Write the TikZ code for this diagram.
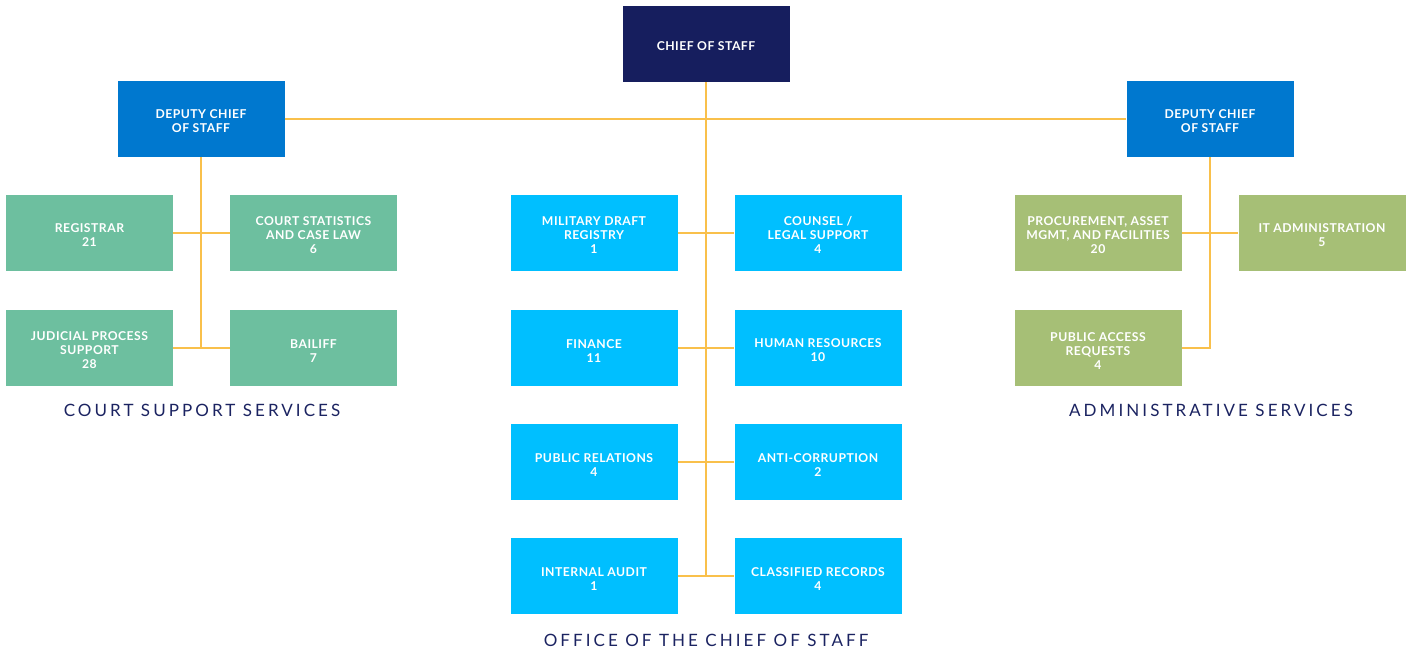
\documentclass[tikz,border=0pt]{standalone}
\usepackage{fontspec}
\setmainfont{Lato}
\newfontfamily\boxfont[LetterSpace=4]{Lato Bold}
\newfontfamily\capfont[LetterSpace=18]{Lato}
\newcommand\tstrut{\rule{0pt}{14pt}}
\definecolor{navy}{HTML}{161E5E}
\definecolor{deputy}{HTML}{0078CF}
\definecolor{court}{HTML}{6DBF9F}
\definecolor{office}{HTML}{00BFFF}
\definecolor{admin}{HTML}{A6BF76}
\definecolor{conn}{HTML}{F9C04B}
\definecolor{captxt}{HTML}{1B2361}
\begin{document}
\begin{tikzpicture}[x=1pt,y=-1pt,
  unit/.style={minimum width=167pt,minimum height=76pt,inner sep=0pt,text=white,align=center,
    font=\boxfont\fontsize{12.2}{14}\selectfont},
  chiefbox/.style={unit,fill=navy},
  depbox/.style={unit,fill=deputy},
  courtbox/.style={unit,fill=court},
  officebox/.style={unit,fill=office},
  adminbox/.style={unit,fill=admin},
  link/.style={draw=conn,line width=1.3pt},
  grouplabel/.style={text=captxt,font=\capfont\fontsize{17}{20}\selectfont,inner sep=0pt}]
\useasboundingbox (0,0) rectangle (1410,652);
\coordinate (cbot) at (706,576);
% nodes
\node[chiefbox] (chief) at (706,44) {\tstrut CHIEF OF STAFF};
\node[depbox] (dl) at (201,119) {\tstrut DEPUTY CHIEF\\OF STAFF};
\node[depbox] (dr) at (1210,119) {\tstrut DEPUTY CHIEF\\OF STAFF};
% court
\node[courtbox] (reg) at (89.5,233) {\tstrut REGISTRAR\\21};
\node[courtbox] (cs) at (313.5,233) {\tstrut COURT STATISTICS\\AND CASE LAW\\6};
\node[courtbox] (jp) at (89.5,348) {\tstrut JUDICIAL PROCESS\\SUPPORT\\28};
\node[courtbox] (bail) at (313.5,348) {\tstrut BAILIFF\\7};
% office
\node[officebox] (mdr) at (594,233) {\tstrut MILITARY DRAFT\\REGISTRY\\1};
\node[officebox] (cls) at (818,233) {\tstrut COUNSEL /\\LEGAL SUPPORT\\4};
\node[officebox] (fin) at (594,348) {\tstrut FINANCE\\11};
\node[officebox] (hr) at (818,348) {\tstrut HUMAN RESOURCES\\10};
\node[officebox] (pr) at (594,462) {\tstrut PUBLIC RELATIONS\\4};
\node[officebox] (ac) at (818,462) {\tstrut ANTI-CORRUPTION\\2};
\node[officebox] (ia) at (594,576) {\tstrut INTERNAL AUDIT\\1};
\node[officebox] (cr) at (818,576) {\tstrut CLASSIFIED RECORDS\\4};
% admin
\node[adminbox] (proc) at (1098,233) {\tstrut PROCUREMENT, ASSET\\MGMT, AND FACILITIES\\20};
\node[adminbox] (it) at (1322,233) {\tstrut IT ADMINISTRATION\\5};
\node[adminbox] (par) at (1098,348) {\tstrut PUBLIC ACCESS\\REQUESTS\\4};
% labels
\node[grouplabel] (lcourt) at (202,410) {COURT SUPPORT SERVICES};
\node[grouplabel] (ladmin) at (1211,410) {ADMINISTRATIVE SERVICES};
\node[grouplabel] (loffice) at (706,640) {OFFICE OF THE CHIEF OF STAFF};
% connectors
\draw[link] (chief.south) -- (cbot);
\draw[link] (dl.east) -- (dr.west);
\draw[link] (dl.south) |- (jp.east);
\draw[link] (dr.south) |- (par.east);
\draw[link] (reg.east) -- (cs.west);
\draw[link] (jp.east) -- (bail.west);
\draw[link] (mdr.east) -- (cls.west);
\draw[link] (fin.east) -- (hr.west);
\draw[link] (pr.east) -- (ac.west);
\draw[link] (ia.east) -- (cr.west);
\draw[link] (proc.east) -- (it.west);
\end{tikzpicture}
\end{document}
